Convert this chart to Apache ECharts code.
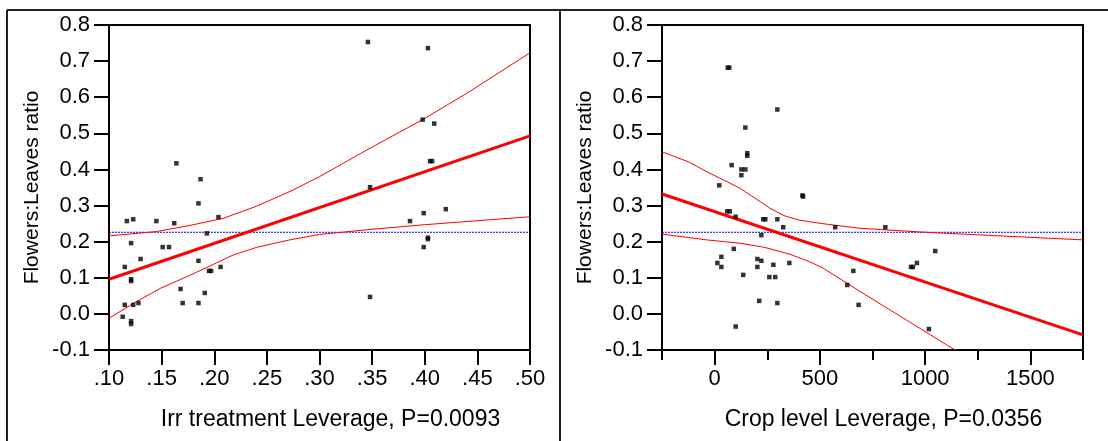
<!DOCTYPE html>
<html>
<head>
<meta charset="utf-8">
<script src="https://cdn.jsdelivr.net/npm/echarts@6/dist/echarts.min.js"></script>
<style>
html,body{margin:0;padding:0;background:#fff;}
#chart{width:1108px;height:441px;}
</style>
</head>
<body>
<div id="chart"></div>
<script>
// ---------- Data ----------
const yTitle = 'Flowers:Leaves ratio';
const leftTitle = 'Irr treatment Leverage, P=0.0093';
const rightTitle = 'Crop level Leverage, P=0.0356';

// Left panel: Irr treatment leverage points
const leftX = [0.164,0.187,0.185,0.204,0.117,0.123,0.145,0.162,0.193,0.121,0.151,0.157,0.130,0.115,0.185,0.195,0.197,0.206,0.121,0.121,0.168,0.191,0.115,0.123,0.128,0.170,0.185,0.113,0.121,0.121,
               0.346,0.403,0.398,0.409,0.405,0.407,0.348,0.420,0.399,0.386,0.403,0.403,0.399,0.348];
const leftY = [0.417,0.373,0.306,0.268,0.257,0.262,0.257,0.251,0.223,0.196,0.185,0.185,0.152,0.130,0.147,0.119,0.119,0.130,0.096,0.091,0.069,0.058,0.025,0.025,0.030,0.030,0.030,-0.008,-0.020,-0.028,
               0.753,0.736,0.538,0.527,0.423,0.423,0.351,0.290,0.279,0.257,0.211,0.207,0.185,0.047];
const leftFitX = [0.10, 0.50];
const leftFitY = [0.096, 0.493];
const leftUpperX = [0.10,0.145,0.177,0.209,0.240,0.272,0.300,0.345,0.398,0.440,0.50];
const leftUpperY = [0.216,0.228,0.245,0.265,0.298,0.339,0.380,0.454,0.538,0.611,0.723];
const leftLowerX = [0.10,0.126,0.149,0.177,0.218,0.240,0.270,0.300,0.349,0.400,0.50];
const leftLowerY = [-0.012,0.034,0.071,0.107,0.163,0.184,0.204,0.220,0.234,0.247,0.269];

// Right panel: Crop level leverage points
const rightX = [62,70,298,146,155,155,81,127,146,127,22,417,420,60,72,100,231,241,298,326,573,811,222,91,32,13,32,203,222,203,279,355,136,260,288,212,298,100,659,630,684,1048,961,933,942,1018];
const rightY = [0.682,0.682,0.566,0.516,0.445,0.438,0.412,0.400,0.400,0.384,0.356,0.328,0.325,0.284,0.284,0.269,0.262,0.262,0.262,0.240,0.240,0.240,0.218,0.180,0.158,0.141,0.130,0.152,0.147,0.130,0.136,0.141,0.108,0.102,0.102,0.036,0.030,-0.035,0.119,0.080,0.025,0.174,0.141,0.130,0.130,-0.042];
const rightFitX = [-250, 1750];
const rightFitY = [0.332, -0.058];
const rightUpperX = [-250,-120,-38,121,262,330,400,498,691,1001,1250,1750];
const rightUpperY = [0.449,0.420,0.394,0.348,0.293,0.272,0.260,0.251,0.237,0.226,0.219,0.205];
const rightLowerX = [-250,-38,130,239,358,450,517,643,691,1142];
const rightLowerY = [0.221,0.205,0.195,0.184,0.165,0.145,0.126,0.080,0.062,-0.100];

const meanY = 0.226;

// Axis settings
const yMin = -0.1, yMax = 0.8, yStep = 0.1;
const leftXMin = 0.10, leftXMax = 0.50, leftXStep = 0.05;
const rightXMin = -250, rightXMax = 1750, rightXStep = 250;
const rightMajorTicks = [0, 500, 1000, 1500];

// ---------- Helpers ----------
const zip = (xs, ys) => xs.map((x, i) => [x, ys[i]]);
const FONT = '"Liberation Sans", Arial, sans-serif';

const chart = echarts.init(document.getElementById('chart'), null, {renderer: 'canvas'});

function yAxisDef(gridIndex) {
  return {
    type: 'value', gridIndex: gridIndex,
    min: yMin, max: yMax, interval: yStep,
    name: yTitle, nameLocation: 'middle', nameRotate: 90, nameGap: 66,
    nameTextStyle: {fontFamily: FONT, fontSize: 21, color: '#000'},
    axisLine: {show: true, onZero: false, lineStyle: {color: '#000', width: 2}},
    axisTick: {show: true, inside: false, length: 15, lineStyle: {color: '#000', width: 2}},
    axisLabel: {fontFamily: FONT, fontSize: 22, color: '#000', margin: 19,
      formatter: v => v.toFixed(1)},
    splitLine: {show: false}
  };
}

const symbolStyle = {symbol: 'rect', symbolSize: 4.5, itemStyle: {color: '#000'}};

const option = {
  animation: false,
  backgroundColor: '#fff',
  grid: [
    {left: 109, top: 25, width: 421, height: 325, show: true, borderColor: '#000', borderWidth: 2, containLabel: false},
    {left: 662, top: 25, width: 421, height: 325, show: true, borderColor: '#000', borderWidth: 2, containLabel: false}
  ],
  xAxis: [
    {
      type: 'value', gridIndex: 0, position: 'bottom',
      min: leftXMin, max: leftXMax, interval: leftXStep,
      name: leftTitle, nameLocation: 'middle', nameGap: 58,
      nameTextStyle: {fontFamily: FONT, fontSize: 23, color: '#000', padding: [0, 0, 0, 22]},
      axisLine: {show: true, onZero: false, lineStyle: {color: '#000', width: 2}},
      axisTick: {show: true, length: 15, lineStyle: {color: '#000', width: 2}},
      axisLabel: {fontFamily: FONT, fontSize: 22, color: '#000', margin: 18,
        formatter: v => v.toFixed(2).replace(/^0/, '')},
      splitLine: {show: false}
    },
    {
      type: 'value', gridIndex: 1, position: 'bottom',
      min: rightXMin, max: rightXMax, interval: rightXStep,
      name: rightTitle, nameLocation: 'middle', nameGap: 58,
      nameTextStyle: {fontFamily: FONT, fontSize: 23, color: '#000', padding: [0, 0, 0, 22]},
      axisLine: {show: true, onZero: false, lineStyle: {color: '#000', width: 2}},
      axisTick: {show: true, length: 10, lineStyle: {color: '#000', width: 2}},
      axisLabel: {fontFamily: FONT, fontSize: 22, color: '#000', margin: 18,
        formatter: v => (rightMajorTicks.indexOf(Math.round(v)) >= 0 ? String(Math.round(v)) : '')},
      splitLine: {show: false}
    },
    {
      type: 'value', gridIndex: 1, position: 'bottom', offset: 0,
      min: rightXMin, max: rightXMax, interval: rightXStep,
      axisLine: {show: false, onZero: false},
      axisTick: {show: true, length: 15, customValues: rightMajorTicks, lineStyle: {color: '#000', width: 2}},
      axisLabel: {show: false},
      splitLine: {show: false}
    }
  ],
  yAxis: [yAxisDef(0), yAxisDef(1)],
  series: [
    // Left panel
    {type: 'line', xAxisIndex: 0, yAxisIndex: 0, data: [[leftXMin, meanY], [leftXMax, meanY]],
      symbol: 'none', lineStyle: {color: '#0000ff', width: 1, type: [2, 1]}, z: 2},
    {type: 'line', xAxisIndex: 0, yAxisIndex: 0, data: zip(leftUpperX, leftUpperY),
      symbol: 'none', lineStyle: {color: '#ff0000', width: 1}, z: 3},
    {type: 'line', xAxisIndex: 0, yAxisIndex: 0, data: zip(leftLowerX, leftLowerY),
      symbol: 'none', lineStyle: {color: '#ff0000', width: 1}, z: 3},
    {type: 'line', xAxisIndex: 0, yAxisIndex: 0, data: zip(leftFitX, leftFitY),
      symbol: 'none', lineStyle: {color: '#ff0000', width: 3}, z: 4},
    Object.assign({type: 'scatter', xAxisIndex: 0, yAxisIndex: 0, data: zip(leftX, leftY), z: 5}, symbolStyle),
    // Right panel
    {type: 'line', xAxisIndex: 1, yAxisIndex: 1, data: [[rightXMin, meanY], [rightXMax, meanY]],
      symbol: 'none', lineStyle: {color: '#0000ff', width: 1, type: [2, 1]}, z: 2},
    {type: 'line', xAxisIndex: 1, yAxisIndex: 1, data: zip(rightUpperX, rightUpperY),
      symbol: 'none', lineStyle: {color: '#ff0000', width: 1}, z: 3},
    {type: 'line', xAxisIndex: 1, yAxisIndex: 1, data: zip(rightLowerX, rightLowerY),
      symbol: 'none', lineStyle: {color: '#ff0000', width: 1}, z: 3},
    {type: 'line', xAxisIndex: 1, yAxisIndex: 1, data: zip(rightFitX, rightFitY),
      symbol: 'none', lineStyle: {color: '#ff0000', width: 3}, z: 4},
    Object.assign({type: 'scatter', xAxisIndex: 1, yAxisIndex: 1, data: zip(rightX, rightY), z: 5}, symbolStyle)
  ],
  graphic: [
    {type: 'line', shape: {x1: 7, y1: 10, x2: 1108, y2: 10}, style: {stroke: '#222', lineWidth: 2}, silent: true},
    {type: 'line', shape: {x1: 7, y1: 10, x2: 7, y2: 441}, style: {stroke: '#222', lineWidth: 2}, silent: true},
    {type: 'line', shape: {x1: 560, y1: 10, x2: 560, y2: 441}, style: {stroke: '#222', lineWidth: 2}, silent: true}
  ]
};
chart.setOption(option);
</script>
</body>
</html>
